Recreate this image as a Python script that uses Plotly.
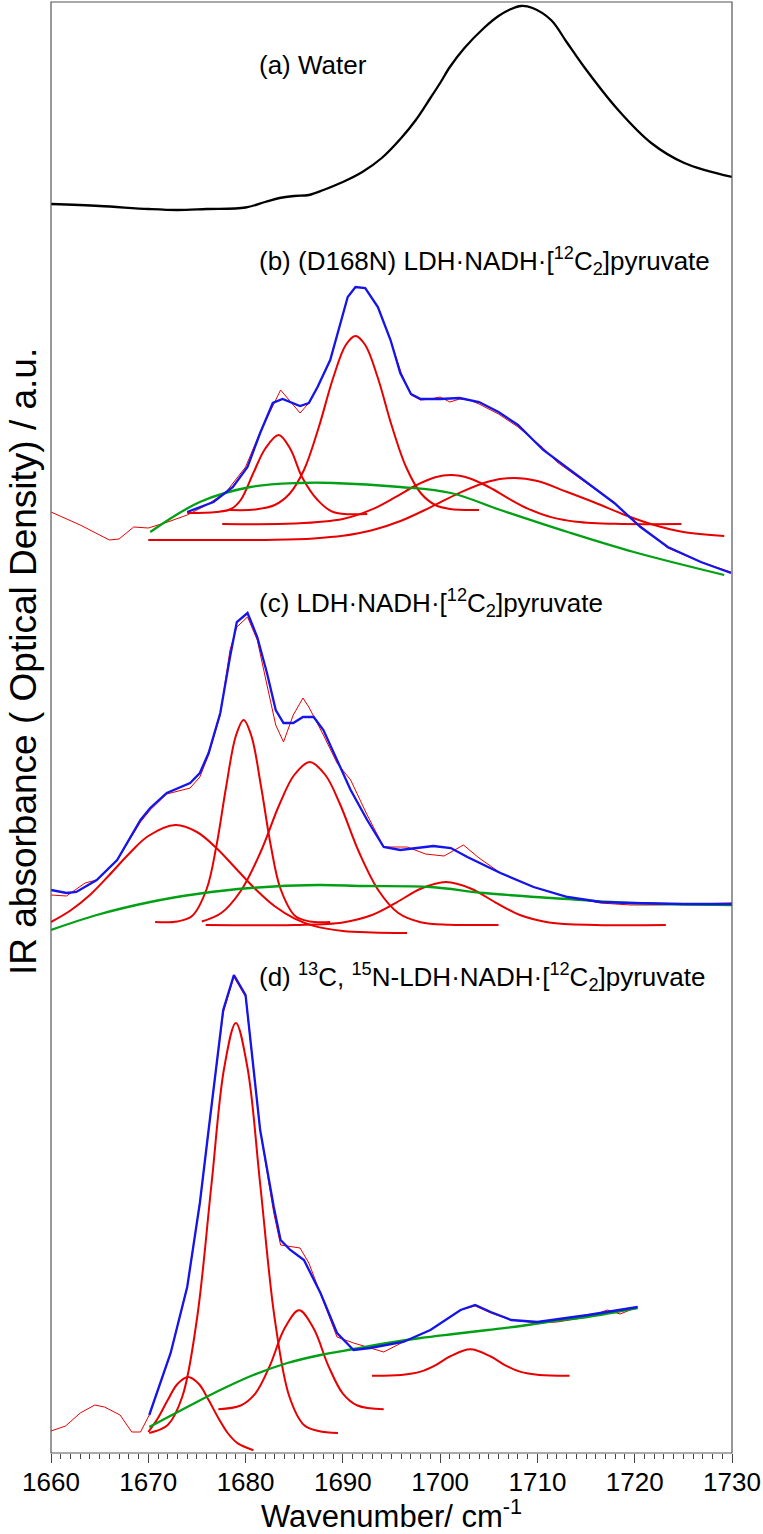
import plotly.graph_objects as go

# ---------------- data (wavenumber / cm-1, absorbance a.u.) ----------------
# (a) Water
a_x = [1660, 1665, 1670, 1673, 1676, 1680, 1682, 1683.5, 1685, 1686.5, 1688, 1690, 1692, 1694, 1696,
       1697.5, 1699, 1700, 1701, 1702.5, 1704.5, 1706, 1707.3, 1708.3, 1709.5, 1711.4, 1713, 1714.8,
       1718.3, 1721.7, 1725.1, 1730]
a_y = [16, 14, 11, 10, 11, 12.5, 18, 22, 24, 25, 30, 38, 48, 62, 82,
       100, 122, 137, 153, 172, 192, 204, 211, 214, 212, 200, 178, 153,
       110, 77, 57, 43]

# (b) (D168N) LDH.NADH.[12C2]pyruvate
b_data_x = [1660, 1663, 1666, 1667, 1668.5, 1670, 1672, 1674, 1676, 1678, 1680, 1681.5, 1683.6, 1685.6,
            1686.5, 1687.4, 1688.7, 1690.5, 1691.3, 1692.3, 1693.6, 1694.9, 1696, 1697, 1698, 1699, 1700,
            1701, 1702, 1703, 1704, 1706, 1708, 1710.6, 1712, 1714, 1715.5, 1717.9, 1720.6, 1723.4,
            1726.8, 1729.9]
b_data_y = [65, 52, 37, 38, 50, 49, 55, 62, 72, 85, 110, 145, 187, 164,
            174, 190, 217, 280, 290, 289, 270, 237, 204, 182, 177, 178, 180,
            175, 178, 177, 173, 163, 150, 129, 115, 101, 90, 74, 51, 29,
            15, 5]
b_fit_x = [1674, 1676.7, 1678.7, 1680.2, 1681.5, 1682.8, 1683.8, 1684.6, 1685.6, 1686.5, 1687.4, 1688.7,
           1690.5, 1691.3, 1692.3, 1693.6, 1694.9, 1695.9, 1697, 1698, 1700, 1702, 1704, 1706, 1708,
           1710.6, 1715.2, 1717.9, 1720.6, 1723.4, 1726.8, 1729.9]
b_fit_y = [65, 75, 90, 110, 144, 174, 178, 175, 171, 174, 190, 217,
           280, 290, 289, 270, 237, 204, 183, 178, 178, 179, 175, 165, 152,
           127, 94, 74, 50, 30, 15, 4]
b_base_x = [1670.2, 1675.3, 1680.5, 1685.6, 1689, 1695.9, 1701.1, 1706.2, 1713.1, 1719.9, 1729.2]
b_base_y = [45, 75, 90, 94, 94, 90, 84, 67, 45, 25, 2]
b_p1_x = [1674, 1677, 1678.5, 1679.5, 1680.8, 1682, 1683.4, 1684.6, 1685.8, 1687.4, 1689, 1692.5]
b_p1_y = [64, 65, 68, 77, 104, 128, 142, 128, 100, 77, 65, 63]
b_p2_x = [1678.4, 1681, 1683, 1684.5, 1686, 1687.5, 1689, 1690.3, 1691.3, 1692.3, 1693.6, 1695,
          1696.5, 1698, 1699.5, 1701, 1704]
b_p2_y = [67, 67.5, 72, 83, 107, 149, 199, 232, 241, 232, 199, 152,
          110, 84, 72, 68, 67]
b_p3_x = [1677.6, 1685, 1690, 1693, 1695.5, 1697.5, 1699.5, 1701.1, 1703, 1705, 1707, 1709,
          1711.5, 1714, 1718, 1724.8]
b_p3_y = [53, 53.4, 58, 67.6, 80.4, 91.5, 99.7, 102, 98.8, 90, 78.7, 68.4,
          59.6, 55.3, 53.2, 53]
b_p4_x = [1670, 1678, 1683, 1687, 1690, 1693, 1696, 1699, 1702, 1705, 1707.6, 1710, 1713, 1716,
          1719, 1722, 1725, 1729.2]
b_p4_y = [37, 37, 37.3, 38.6, 41.2, 46.8, 56.3, 69.7, 84.2, 95.5, 99, 96, 85.2, 74,
          62, 52, 45, 41]

# (c) LDH.NADH.[12C2]pyruvate
c_data_x = [1660, 1661.6, 1663.5, 1664.7, 1666.8, 1669.2, 1670.2, 1671.9, 1674.3, 1675.3, 1676.2,
            1677.4, 1678.4, 1679.1, 1680.2, 1681.2, 1682.2, 1683.1, 1683.9, 1684.9, 1685.9, 1686.5,
            1688, 1689.4, 1690.8, 1692.5, 1694.2, 1696.6, 1698.5, 1700.4, 1702.4, 1704, 1706.2,
            1709.6, 1713.1, 1716.5, 1718, 1719.6, 1722, 1726, 1730]
c_data_y = [45, 44, 57, 60, 80, 118, 130, 146, 152, 163, 185,
            225, 290, 313, 323, 300, 255, 215, 198, 225, 242, 233,
            205, 177, 160, 125, 93, 93, 86, 84, 95, 82, 67,
            53, 43, 37, 36, 35, 35, 36, 37]
c_fit_x = [1660, 1661.6, 1662.6, 1664.7, 1666.8, 1669.2, 1670.2, 1671.9, 1674.3, 1675.3, 1676.2,
           1677.4, 1678.4, 1679.1, 1680.2, 1681.2, 1682.2, 1683.1, 1683.9, 1684.9, 1685.9, 1687,
           1688, 1689.4, 1690.8, 1692.5, 1694.2, 1695.9, 1699.3, 1701.1, 1702.8, 1706.2, 1709.6,
           1713.1, 1716.5, 1719.6, 1725, 1730]
c_fit_y = [50, 47, 48, 60, 80, 120, 132, 147, 157, 167, 187,
           227, 283, 318, 327, 303, 267, 230, 217, 217, 223, 223,
           210, 180, 150, 120, 93, 90, 94, 92, 83, 67, 53,
           43, 38, 37, 36, 36]
c_base_x = [1660, 1664.7, 1670.2, 1675, 1680.5, 1687.4, 1692.1, 1699, 1704.5, 1711.4, 1719.6, 1730]
c_base_y = [10, 25, 38, 46, 52, 55, 54, 53, 47, 42, 37, 35]
c_p1_x = [1660, 1662, 1664, 1666, 1668, 1670, 1672.8, 1675, 1677, 1679, 1681, 1683, 1685, 1687,
          1690, 1693, 1696.6]
c_p1_y = [18, 29.5, 45, 65, 86, 104, 115, 108, 92, 71.5, 51, 33.7, 21.6, 14.1,
          9, 7.5, 7]
c_p2_x = [1670.7, 1673, 1674.5, 1676, 1677, 1678, 1679, 1679.8, 1680.6, 1681.6, 1682.6, 1683.6,
          1685.1, 1686.6, 1688.7]
c_p2_y = [18, 18.6, 24, 51, 94, 153, 204, 220, 204, 153, 94, 51,
          24, 18.6, 18]
c_p3_x = [1675.5, 1677.5, 1679.5, 1681.5, 1683.5, 1685, 1686.6, 1688.2, 1689.7, 1691.7, 1693.7,
          1695.7, 1698, 1701, 1706]
c_p3_y = [18.5, 27, 49, 87, 136, 165, 178, 165, 136, 87, 49,
          27, 17.8, 15.3, 15]
c_p4_x = [1675.9, 1685, 1690, 1693, 1695.5, 1698, 1700.6, 1703.2, 1705.7, 1708.2, 1711.2, 1716, 1723.2]
c_p4_y = [15, 15.1, 17.6, 25, 37.4, 51.3, 58, 51.3, 37.4, 25, 17.6, 15.1, 15]

# (d) 13C,15N-LDH.NADH.[12C2]pyruvate
d_data_x = [1660, 1661.5, 1663, 1664.5, 1665.5, 1667.1, 1668.3, 1669.2, 1670.1, 1672.3, 1674, 1675.3,
            1676.2, 1677.7, 1678.8, 1680, 1681.5, 1682.9, 1683.6, 1685.6, 1686.5, 1687.7, 1689.4,
            1691.1, 1692.5, 1694.2, 1696.2, 1699, 1702.1, 1703.6, 1705.2, 1707.3, 1710, 1712,
            1715.2, 1717.2, 1718.5, 1720.3]
d_data_y = [22, 27, 40, 48, 46, 38, 21, 21, 38, 100, 166, 250,
            323, 440, 476, 456, 323, 240, 208, 205, 190, 160, 116,
            110, 106, 101, 111, 123, 143, 147, 140, 133, 130, 131,
            136, 143, 139, 146]
d_fit_x = [1670.1, 1672.3, 1674, 1675.3, 1676.2, 1677.7, 1678.8, 1680, 1681.5, 1682.9, 1683.6,
           1684.6, 1686, 1687.7, 1689.4, 1691.1, 1692.8, 1696.2, 1699, 1702.1, 1703.6, 1705.2,
           1707.3, 1710, 1715.2, 1720.3]
d_fit_y = [38, 100, 166, 250, 323, 443, 478, 458, 323, 246, 213,
           203, 193, 160, 120, 103, 105, 111, 123, 143, 148, 141,
           133, 131, 138, 146]
d_base_x = [1670.1, 1674, 1677.4, 1680.8, 1684.3, 1687.7, 1691.1, 1694.6, 1698, 1701.4, 1704.9,
            1708.3, 1711.7, 1715.1, 1720.3]
d_base_y = [26, 46, 63, 78, 90, 98, 104, 110, 115, 119, 123, 127, 132, 136, 145]
d_p1_x = [1670, 1671, 1672, 1673, 1674.1, 1675.2, 1676.2, 1677.2, 1678.2, 1679.2, 1680.8]
d_p1_y = [21, 35, 53, 69, 76, 69, 53, 35, 19.5, 9.6, 2.8]
d_p2_x = [1670.1, 1672, 1673.5, 1675, 1676.5, 1677.8, 1679, 1680.2, 1681.5, 1683, 1684.5, 1686,
          1687.5, 1689.5]
d_p2_y = [20, 28, 56.5, 134, 269, 385, 430, 385, 269, 134, 56.5, 28,
          22, 20]
d_p3_x = [1677.2, 1679.5, 1681, 1682.5, 1684, 1685.5, 1687, 1688.5, 1690, 1691.5, 1694.2]
d_p3_y = [43.8, 47.5, 59.4, 87.4, 124.4, 142.7, 124.4, 87.4, 59.4, 47.5, 43.8]
d_p4_x = [1693, 1696, 1698, 1699.5, 1701, 1703.1, 1705.2, 1706.7, 1708.2, 1710.2, 1713.3]
d_p4_y = [77.3, 78.1, 81.4, 87.7, 96.5, 103.7, 96.5, 87.7, 81.4, 78.1, 77.3]

labels = ["(a) Water",
          "(b) (D168N) LDH·NADH·[<sup>12</sup>C<sub>2</sub>]pyruvate",
          "(c) LDH·NADH·[<sup>12</sup>C<sub>2</sub>]pyruvate",
          "(d) <sup>13</sup>C, <sup>15</sup>N-LDH·NADH·[<sup>12</sup>C<sub>2</sub>]pyruvate"]
x_ticks = [1660, 1670, 1680, 1690, 1700, 1710, 1720, 1730]

# ---------------- styling ----------------
RED = "rgb(232,0,0)"
BLUE = "rgb(20,20,235)"
GREEN = "rgb(0,160,20)"
BLACK = "black"

fig = go.Figure()


def add(x, y, yaxis, color, width, shape="linear"):
    fig.add_trace(go.Scatter(x=x, y=y, xaxis="x", yaxis=yaxis, mode="lines",
                             line=dict(color=color, width=width, shape=shape),
                             hoverinfo="skip", showlegend=False))


add(a_x, a_y, "y", BLACK, 2.3, "spline")

add(b_data_x, b_data_y, "y2", RED, 1)
for px_, py_ in [(b_p1_x, b_p1_y), (b_p2_x, b_p2_y), (b_p3_x, b_p3_y), (b_p4_x, b_p4_y)]:
    add(px_, py_, "y2", RED, 2, "spline")
add(b_base_x, b_base_y, "y2", GREEN, 2.3, "spline")
add(b_fit_x, b_fit_y, "y2", BLUE, 2.3)

add(c_data_x, c_data_y, "y3", RED, 1)
for px_, py_ in [(c_p1_x, c_p1_y), (c_p2_x, c_p2_y), (c_p3_x, c_p3_y), (c_p4_x, c_p4_y)]:
    add(px_, py_, "y3", RED, 2, "spline")
add(c_base_x, c_base_y, "y3", GREEN, 2.3, "spline")
add(c_fit_x, c_fit_y, "y3", BLUE, 2.3)

add(d_data_x, d_data_y, "y4", RED, 1)
for px_, py_ in [(d_p1_x, d_p1_y), (d_p2_x, d_p2_y), (d_p3_x, d_p3_y), (d_p4_x, d_p4_y)]:
    add(px_, py_, "y4", RED, 2, "spline")
add(d_base_x, d_base_y, "y4", GREEN, 2.3, "spline")
add(d_fit_x, d_fit_y, "y4", BLUE, 2.3)

W, H = 763, 1534
ML, MR, MT, MB = 51, 31, 2, 81
ph = H - MT - MB
pw = W - ML - MR


def dom(top_px, bot_px):
    return [(H - MB - bot_px) / ph, (H - MB - top_px) / ph]


yax = dict(showticklabels=False, showgrid=False, zeroline=False, showline=False, ticks="")
fig.update_layout(
    width=W, height=H,
    margin=dict(l=ML, r=MR, t=MT, b=MB, autoexpand=False),
    paper_bgcolor="white", plot_bgcolor="white",
    font=dict(family="Liberation Sans, Arial, sans-serif", color="black"),
    xaxis=dict(range=[1660, 1730], anchor="y4", tickvals=x_ticks, ticks="outside",
               ticklen=9, tickwidth=1, tickcolor="#444", showgrid=False, zeroline=False,
               showline=False, tickfont=dict(size=26), automargin=False,
               ticklabelstandoff=-3,
               minor=dict(dtick=1, ticks="outside", ticklen=5, tickcolor="#444", showgrid=False)),
    yaxis=dict(domain=dom(MT, 220), range=[0, 218], **yax),
    yaxis2=dict(domain=dom(220, 577), range=[0, 357], anchor="x", **yax),
    yaxis3=dict(domain=dom(577, 940), range=[0, 363], anchor="x", **yax),
    yaxis4=dict(domain=dom(940, H - MB), range=[0, 513], anchor="x", **yax),
)

fig.add_shape(type="rect", xref="paper", yref="paper", x0=0, x1=1, y0=0, y1=1,
              line=dict(color="#555", width=1.2), fillcolor="rgba(0,0,0,0)", layer="above")

label_px = [65, 261, 603, 977]
for txt, py in zip(labels, label_px):
    fig.add_annotation(text=txt, xref="paper", yref="paper",
                       x=(257 - ML) / pw, y=(H - MB - py) / ph,
                       xanchor="left", yanchor="middle", showarrow=False,
                       font=dict(size=26, color="black"))

fig.add_annotation(text="Wavenumber/ cm<sup>-1</sup>", xref="paper", yref="paper",
                   x=0.5, y=(H - MB - 1514) / ph, xanchor="center", yanchor="middle",
                   showarrow=False, font=dict(size=31))
fig.add_annotation(text="IR absorbance ( Optical Density) / a.u.", xref="paper", yref="paper",
                   x=(23 - ML) / pw, y=(H - MB - 662) / ph, textangle=-90,
                   xanchor="center", yanchor="middle", showarrow=False,
                   font=dict(size=37))

fig.write_html("out.html", post_script="document.body.style.margin='0px';",
               config={"displayModeBar": False})
